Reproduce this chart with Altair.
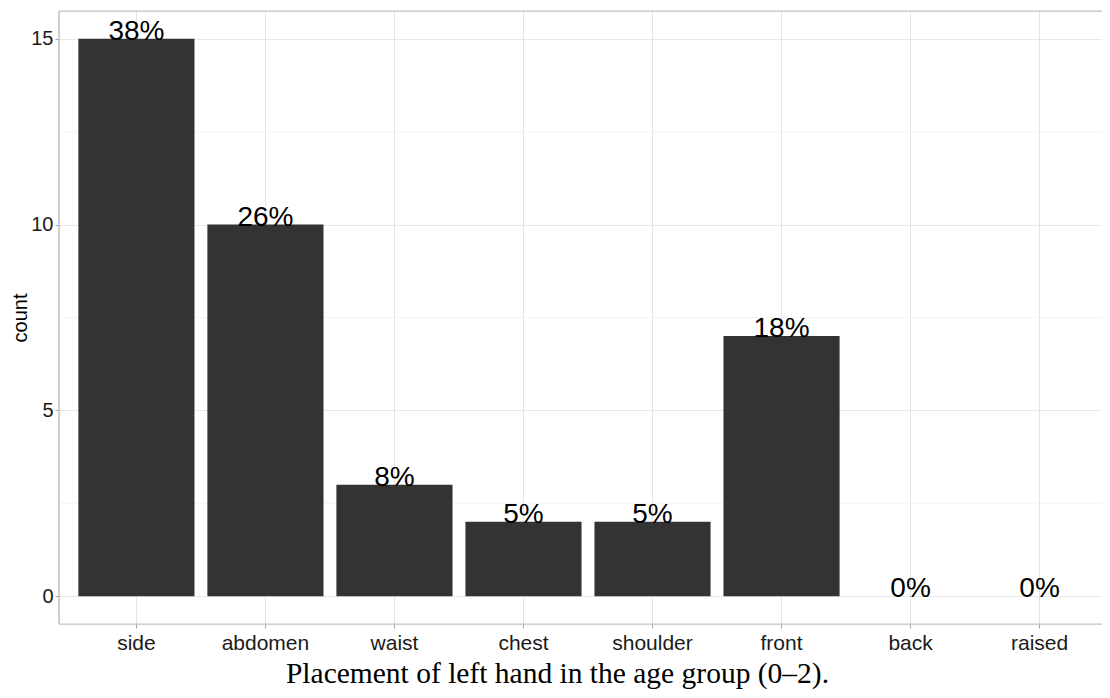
import altair as alt
import pandas as pd

categories = ["side", "abdomen", "waist", "chest", "shoulder", "front", "back", "raised"]
counts = [15, 10, 3, 2, 2, 7, 0, 0]
pct_labels = ["38%", "26%", "8%", "5%", "5%", "18%", "0%", "0%"]
major_ticks = [0, 5, 10, 15]
minor_ticks = [2.5, 7.5, 12.5]
caption = "Placement of left hand in the age group (0\u20132)."

df = pd.DataFrame({"placement": categories, "count": counts, "label": pct_labels})
minor_df = pd.DataFrame({"v": minor_ticks})
border_df = pd.DataFrame({"v": [-0.75, 15.75]})

W = 1043
yscale = alt.Scale(domain=[-0.75, 15.75], nice=False, zero=False)
xscale = alt.Scale(domain=categories, paddingInner=0.1, paddingOuter=0.15, range=[0, 1058])

x_enc = alt.X("placement:N", scale=xscale, sort=categories,
              axis=alt.Axis(title=None, labelAngle=0, labelFontSize=21, labelColor="#1a1a1a",
                            labelFont="Liberation Sans", tickColor="#a6a6a6", tickSize=4,
                            labelPadding=4, grid=True, gridColor="#e3e3e3", bandPosition=0.5,
                            domain=False))

minor = alt.Chart(minor_df).mark_rule(color="#f3f3f3", strokeWidth=1).encode(
    y=alt.Y("v:Q", scale=yscale)
)

border_h = alt.Chart(border_df).mark_rule(color="#c4c4c4", strokeWidth=1).encode(
    y=alt.Y("v:Q", scale=yscale)
)
border_v = alt.Chart(border_df).mark_rule(color="#c4c4c4", strokeWidth=1).encode(
    x=alt.value(0), y=alt.value(0), y2=alt.value(613)
)

bars = alt.Chart(df).mark_bar(color="#333333").encode(
    x=x_enc,
    y=alt.Y("count:Q", scale=yscale,
            axis=alt.Axis(title="count", values=major_ticks, labelFontSize=20, labelColor="#1a1a1a",
                          labelFont="Liberation Sans", titleFont="Liberation Sans", titleFontSize=20,
                          titleFontWeight="normal", titleColor="#000000",
                          tickColor="#a6a6a6", tickSize=4, labelPadding=2, titlePadding=0,
                          grid=True, gridColor="#e8e8e8", domain=False)),
)

text = alt.Chart(df).mark_text(fontSize=28, font="Liberation Sans", color="#000000",
                               baseline="alphabetic", dy=1).encode(
    x=alt.X("placement:N", scale=xscale, sort=categories),
    y=alt.Y("count:Q", scale=yscale),
    text="label:N",
)

chart = alt.layer(minor, bars, border_h, border_v, text).properties(
    width=W, height=613,
    autosize=alt.AutoSizeParams(type="none"),
    padding={"left": 51, "top": 3, "right": 0, "bottom": 66},
    title=alt.TitleParams(caption, orient="bottom", anchor="middle", frame="group",
                          font="Liberation Serif", fontSize=29.5, fontWeight="normal",
                          color="#000000", offset=7, dx=-23),
).configure_view(stroke=None).configure(background="white")

chart.save("out.html", embed_options={"renderer": "svg", "actions": False})
